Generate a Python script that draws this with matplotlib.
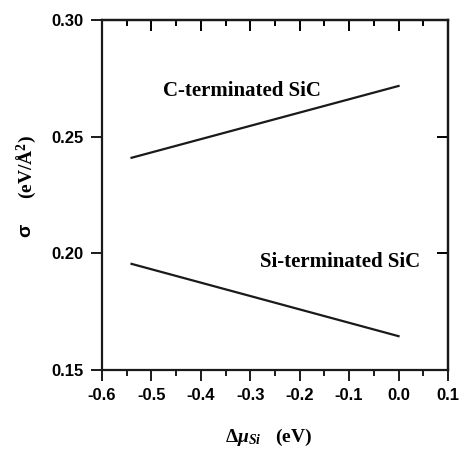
import matplotlib
matplotlib.use("Agg")
import matplotlib.pyplot as plt
from matplotlib.ticker import MultipleLocator

plt.rcParams["mathtext.fontset"] = "custom"
plt.rcParams["mathtext.rm"] = "Liberation Serif:bold"
plt.rcParams["mathtext.it"] = "Liberation Serif:bold:italic"

# chemical potential range (eV) and surface energies (eV/A^2)
d_mu = [-0.54, 0.0]
sigma_C = [0.241, 0.2718]
sigma_Si = [0.1955, 0.1645]

x_ticks = [-0.6, -0.5, -0.4, -0.3, -0.2, -0.1, 0.0, 0.1]
y_ticks = [0.15, 0.20, 0.25, 0.30]

fig = plt.figure(figsize=(4.59, 4.49), dpi=100)
ax = fig.add_axes([0.222, 0.176, 0.754, 0.779])

ax.plot(d_mu, sigma_C, color="#1a1a1a", lw=1.6)
ax.plot(d_mu, sigma_Si, color="#1a1a1a", lw=1.6)

ax.set_xlim(-0.6, 0.1)
ax.set_ylim(0.15, 0.30)
ax.set_xticks(x_ticks)
ax.set_xticklabels([f"{v:.1f}" for v in x_ticks])
ax.set_yticks(y_ticks)
ax.set_yticklabels([f"{v:.2f}" for v in y_ticks])
ax.xaxis.set_minor_locator(MultipleLocator(0.05))

for s in ax.spines.values():
    s.set_linewidth(1.6)
    s.set_color("#1a1a1a")

ax.tick_params(which="both", direction="out", width=1.4, color="#1a1a1a",
               labelsize=12, pad=5)
ax.tick_params(which="major", length=8)
ax.tick_params(which="minor", length=4)
for lab in ax.get_xticklabels() + ax.get_yticklabels():
    lab.set_fontfamily("Liberation Sans")
    lab.set_fontweight("bold")

# top / right axis ticks pointing inward
ax_t = ax.secondary_xaxis("top")
ax_t.set_xticks(x_ticks)
ax_t.xaxis.set_minor_locator(MultipleLocator(0.05))
ax_t.tick_params(which="both", direction="in", width=1.4, labeltop=False)
ax_t.tick_params(which="major", length=8)
ax_t.tick_params(which="minor", length=4)
ax_t.spines["top"].set_linewidth(1.6)
ax_r = ax.secondary_yaxis("right")
ax_r.set_yticks(y_ticks)
ax_r.tick_params(which="both", direction="in", width=1.4, length=8, labelright=False)
ax_r.spines["right"].set_linewidth(1.6)

ax.text(-0.477, 0.2696, "C-terminated SiC", family="Liberation Serif",
        fontweight="bold", fontsize=15, va="center")
ax.text(-0.28, 0.1965, "Si-terminated SiC", family="Liberation Serif",
        fontweight="bold", fontsize=15, va="center")

# axis labels
fig.text(0.586, 0.026, r"$\Delta\mu_{Si}\ \ \ \mathrm{(eV)}$", ha="center",
         va="center", fontsize=14)
fig.text(0.057, 0.486, "\u03c3", family="Liberation Sans", fontweight="bold",
         fontsize=14, rotation=90, ha="center", va="center")
fig.text(0.057, 0.627, r"(eV/$\mathrm{\AA}^2$)", family="Liberation Serif",
         fontweight="bold", fontsize=14, rotation=90, ha="center", va="center")

fig.savefig("out.png", dpi=100)
